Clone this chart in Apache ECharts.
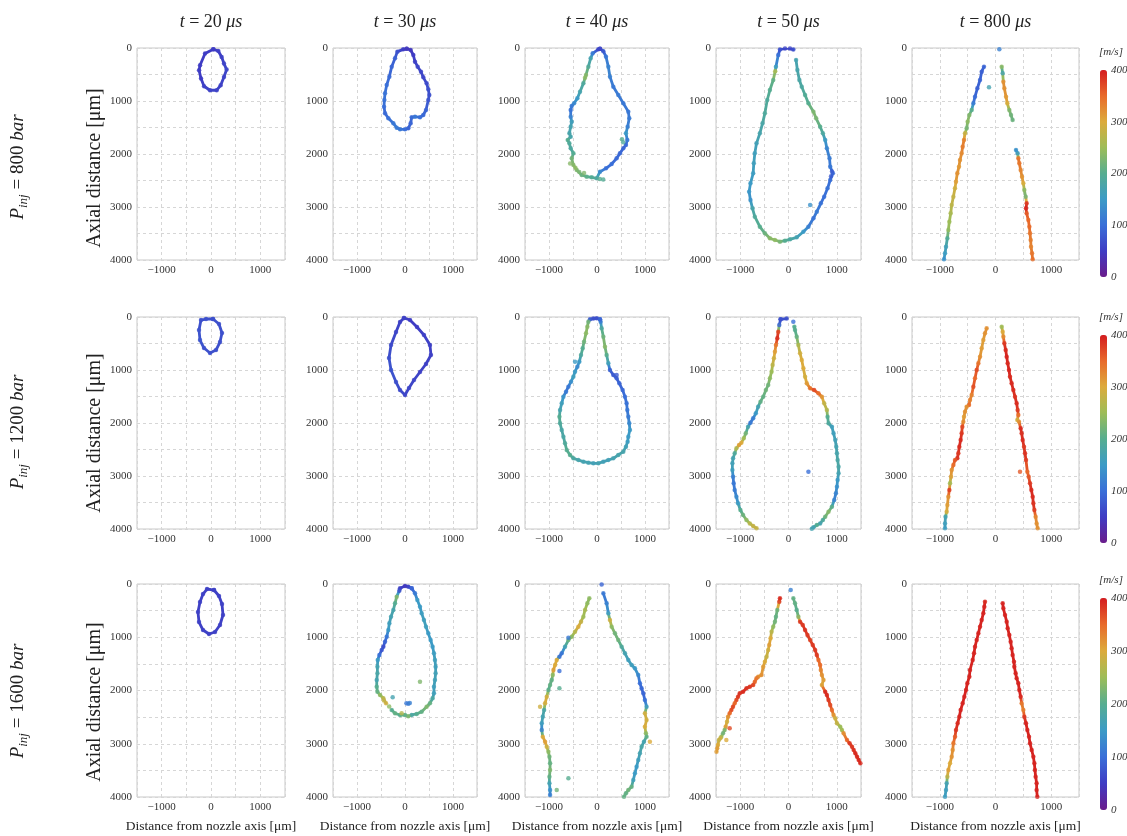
<!DOCTYPE html>
<html>
<head>
<meta charset="utf-8">
<script src="https://cdn.jsdelivr.net/npm/echarts@6/dist/echarts.min.js"></script>
<style>
html, body { margin: 0; padding: 0; background: #fff; }
#chart { width: 1127px; height: 836px; }
</style>
</head>
<body>
<div id="chart"></div>
<script>
// ---- labels and ticks ----
const TIMES = ['20', '30', '40', '50', '800'];          // t [μs], one per column
const PRESSURES = ['800', '1200', '1600'];            // P_inj [bar], one per row
const X_TICKS = [-1000, 0, 1000];
const Y_TICKS = [0, 1000, 2000, 3000, 4000];
const BAR_TICKS = [0, 100, 200, 300, 400];            // velocity scale [m/s]

// ---- spray edge traces: [radial µm, axial µm, velocity m/s]; one array per trace ----
const bar800_t20 = [
  [[47,25,50],[148,57,52],[216,170,55],[263,294,58],[317,407,62],[263,546,58],[196,703,55],[115,797,58],[-20,797,58],[-141,722,55],[-202,577,50],[-242,420,50],[-222,326,50],[-121,105,50],[47,25,50]]
];
const bar800_t30 = [
  [[35,13,45],[-35,25,50],[-159,69,70],[-208,195,85],[-277,352,90],[-326,541,95],[-381,698,100],[-416,855,105],[-430,981,105],[-437,1107,100],[-416,1233,95],[-347,1327,100],[-243,1421,110],[-173,1503,115],[-104,1535,110],[0,1535,100],[69,1516,90],[118,1421,90],[139,1308,95],[208,1296,110],[312,1308,100],[381,1264,95],[437,1170,90],[485,981,75],[506,887,70],[485,780,70],[451,667,65],[381,553,60],[333,447,60],[264,352,60],[208,258,55],[173,132,50],[118,38,45],[35,13,45]]
];
const bar800_t40 = [
  [[62,13,60],[28,25,60],[-90,101,110],[-132,195,170],[-180,352,190],[-229,509,235],[-284,667,190],[-354,824,175],[-409,950,150],[-478,1044,130],[-527,1094,115],[-548,1170,105],[-548,1296,120],[-527,1390,160],[-548,1484,170],[-576,1610,175],[-548,1673,175],[-610,1736,200],[-576,1799,190],[-548,1893,185],[-492,1988,195],[-527,2082,220],[-492,2208,235],[-423,2302,230],[-319,2397,215],[-215,2428,205],[-111,2440,195],[-7,2459,190],[62,2333,130],[187,2271,100],[305,2189,100],[409,2082,95],[478,1988,95],[548,1893,90],[603,1830,95],[631,1736,110],[603,1610,150],[638,1484,120],[672,1327,115],[652,1201,110],[548,1044,110],[444,887,115],[340,730,110],[270,541,120],[236,352,125],[187,164,110],[132,60,80],[62,13,60]],
  [[-560,2180,235]],[[-450,2260,240]],[[-370,2340,225]],[[-270,2360,230]],[[60,2470,200]],[[130,2480,195]],[[520,1720,200]],[[545,1780,190]],[[-250,560,240]]
];
const bar800_t50 = [
  [[100,30,70],[31,8,60],[-73,8,60],[-177,30,70],[-212,132,100],[-260,352,150],[-275,440,260],[-316,604,210],[-385,793,200],[-440,981,190],[-489,1233,190],[-537,1421,180],[-593,1610,175],[-662,1799,165],[-697,1988,160],[-718,2176,160],[-731,2365,155],[-787,2554,150],[-815,2711,145],[-787,2868,140],[-745,3025,175],[-697,3183,190],[-593,3371,200],[-489,3497,215],[-385,3591,235],[-281,3623,240],[-177,3654,225],[-73,3636,200],[31,3610,185],[170,3572,170],[308,3466,150],[412,3371,120],[516,3214,105],[586,3088,115],[669,2931,105],[738,2806,100],[808,2648,105],[863,2491,100],[918,2365,95],[863,2239,110],[849,2082,115],[794,1893,125],[759,1736,150],[711,1610,185],[655,1484,200],[572,1327,225],[516,1201,230],[412,1044,200],[343,887,195],[274,730,185],[225,604,180],[184,415,175],[156,226,170]],
  [[447,2962,140]],[[900,2330,80]],[[880,2420,80]]
];
const bar800_t800 = [
  [[-207,352,90],[-248,447,85],[-278,604,90],[-326,761,85],[-368,918,95],[-398,1044,110],[-428,1170,200],[-470,1264,230],[-500,1390,240],[-518,1516,220],[-548,1610,280],[-566,1736,330],[-590,1862,335],[-608,1988,325],[-638,2113,320],[-656,2239,315],[-686,2365,320],[-710,2522,310],[-728,2648,290],[-757,2806,280],[-787,2963,275],[-805,3120,260],[-829,3277,250],[-847,3434,245],[-865,3591,195],[-889,3749,165],[-907,3874,155],[-925,3988,140]],
  [[111,352,240],[129,478,170],[141,635,320],[159,761,320],[189,918,315],[212,1044,300],[248,1170,230],[278,1264,220],[308,1359,215]],
  [[368,1925,140],[398,1988,150],[410,2082,340],[428,2176,340],[452,2302,330],[476,2428,320],[500,2554,300],[518,2680,240],[542,2806,220],[560,2931,380],[548,3025,395],[560,3120,360],[590,3246,350],[608,3371,350],[620,3497,340],[632,3623,335],[638,3749,330],[656,3874,340],[668,3988,345]],
  [[69,25,120]],[[-117,742,170]]
];

const bar1200_t20 = [
  [[41,38,70],[-101,38,70],[-203,57,70],[-243,245,72],[-223,434,75],[-142,585,72],[-20,679,70],[101,623,70],[182,472,70],[223,302,70],[162,132,70],[41,38,70]]
];
const bar1200_t30 = [
  [[-21,19,55],[-104,94,55],[-187,283,60],[-291,528,65],[-333,774,70],[-291,1000,75],[-187,1227,70],[-104,1378,65],[0,1472,60],[83,1340,60],[187,1189,60],[312,1038,55],[437,887,55],[541,717,55],[520,528,55],[395,340,55],[250,189,50],[104,57,50],[-21,19,55]]
];
const bar1200_t40 = [
  [[62,44,90],[-7,25,70],[-76,30,70],[-146,44,75],[-180,88,220],[-201,182,235],[-229,308,240],[-270,465,220],[-298,591,200],[-333,717,190],[-368,843,150],[-409,937,130],[-458,1032,150],[-492,1126,160],[-541,1220,140],[-596,1315,110],[-645,1409,110],[-700,1503,140],[-735,1629,160],[-770,1755,170],[-783,1881,200],[-770,2007,190],[-735,2132,180],[-700,2258,180],[-666,2384,190],[-631,2510,200],[-562,2604,200],[-492,2667,185],[-388,2699,175],[-284,2730,170],[-180,2749,170],[-76,2761,165],[28,2761,170],[132,2730,165],[236,2699,165],[340,2667,170],[444,2604,175],[548,2541,175],[603,2447,165],[638,2352,155],[652,2258,150],[686,2132,150],[672,2007,130],[652,1881,115],[631,1755,110],[617,1629,105],[582,1503,100],[534,1378,95],[465,1252,90],[409,1157,85],[340,1094,80],[270,1000,85],[236,874,160],[201,717,200],[166,560,235],[132,371,220],[97,214,190],[76,88,120],[62,44,90]],
  [[-458,843,150]],[[409,1094,80]]
];
const bar1200_t50 = [
  [[-163,44,70],[-191,151,90],[-212,277,370],[-232,403,390],[-260,528,340],[-281,654,310],[-302,780,290],[-329,906,275],[-350,1032,250],[-385,1157,240],[-420,1283,220],[-468,1378,220],[-523,1503,210],[-579,1597,210],[-628,1692,170],[-676,1818,150],[-731,1912,120],[-787,1994,110],[-836,2069,170],[-884,2195,220],[-926,2290,250],[-974,2371,300],[-1023,2415,310],[-1078,2478,270],[-1113,2573,190],[-1147,2667,170],[-1161,2761,165],[-1161,2887,160],[-1147,3012,120],[-1134,3138,110],[-1113,3264,115],[-1078,3390,130],[-1044,3516,150],[-995,3642,200],[-940,3736,215],[-870,3831,240],[-801,3894,270],[-731,3944,280],[-662,3988,280]],
  [[-38,30,70],[-163,44,70]],
  [[121,182,200],[135,245,200],[170,371,210],[204,528,260],[239,686,290],[274,811,300],[308,969,300],[343,1126,290],[378,1252,310],[447,1346,340],[530,1378,370],[620,1441,350],[690,1503,320],[738,1629,280],[794,1755,270],[808,1881,200],[828,2007,190],[898,2069,160],[932,2195,160],[967,2321,165],[988,2447,170],[1002,2573,175],[1016,2699,180],[1036,2824,180],[1036,2950,170],[1016,3075,150],[1002,3201,140],[981,3327,125],[946,3453,120],[898,3579,200],[828,3673,235],[759,3768,220],[711,3831,190],[655,3894,170],[586,3925,200],[516,3969,170],[482,3995,170]],
  [[100,88,100]],[[412,2919,100]]
];
const bar1200_t800 = [
  [[-159,214,320],[-189,308,320],[-219,434,310],[-248,591,310],[-278,749,320],[-308,874,340],[-338,1000,370],[-368,1157,350],[-398,1315,370],[-428,1472,330],[-458,1566,330],[-476,1661,350],[-518,1692,320],[-548,1787,320],[-566,1881,310],[-578,1975,320],[-596,2069,370],[-608,2195,380],[-626,2321,390],[-650,2447,390],[-668,2573,380],[-686,2667,385],[-727,2699,360],[-757,2793,350],[-787,2887,320],[-799,3012,310],[-817,3138,250],[-829,3264,380],[-847,3390,320],[-865,3548,310],[-877,3673,300],[-898,3768,170],[-907,3894,160],[-907,3988,155]],
  [[111,182,250],[129,277,300],[141,371,320],[159,497,380],[183,623,390],[201,749,395],[219,874,390],[242,1000,395],[260,1126,390],[290,1252,390],[320,1378,390],[350,1503,385],[380,1629,390],[398,1755,380],[410,1849,350],[392,1944,290],[422,1975,320],[452,2101,390],[470,2195,385],[488,2321,390],[512,2447,380],[530,2573,385],[548,2699,380],[572,2919,350],[596,3012,360],[620,3138,380],[644,3264,390],[668,3390,390],[680,3516,385],[698,3642,380],[721,3768,330],[739,3894,320],[757,3988,320]],
  [[440,2919,360]]
];

const bar1600_t20 = [
  [[61,113,55],[-81,94,55],[-162,188,55],[-223,338,55],[-264,526,55],[-243,714,55],[-162,864,55],[-41,939,55],[81,901,55],[182,770,55],[243,582,55],[223,376,55],[162,225,55],[61,113,55]]
];
const bar1600_t30 = [
  [[139,81,90],[69,50,60],[0,38,45],[-104,81,55],[-118,125,70],[-173,238,230],[-208,363,200],[-243,488,175],[-291,613,170],[-326,739,160],[-347,864,150],[-381,989,110],[-416,1083,90],[-451,1177,70],[-485,1239,75],[-534,1333,100],[-568,1427,150],[-575,1552,170],[-575,1678,180],[-589,1803,170],[-589,1928,200],[-575,2022,210],[-520,2085,240],[-451,2147,270],[-395,2241,290]],
  [[139,81,90],[208,175,110],[257,300,150],[312,426,150],[347,551,155],[395,676,160],[437,801,160],[485,927,150],[534,1052,150],[575,1177,150],[603,1302,155],[624,1427,160],[638,1552,160],[638,1678,165],[624,1803,165],[603,1928,160],[603,2053,160],[575,2147,180],[520,2241,210],[451,2304,230],[347,2397,210],[243,2441,200],[139,2460,180],[69,2485,230],[0,2460,210],[-104,2460,200],[-208,2429,210],[-277,2366,200]],
  [[30,2241,110]],[[70,2250,110]],[[100,2235,120]],[[312,1834,230]],[[-257,2128,170]],[[-70,2428,270]],[[-440,2190,280]],[[-330,2300,240]]
];
const bar1600_t40 = [
  [[-160,269,240],[-201,363,240],[-250,488,260],[-284,613,250],[-333,707,280],[-388,801,300],[-458,895,270],[-527,989,240],[-596,1052,220],[-666,1177,170],[-735,1302,110],[-783,1365,100],[-839,1427,300],[-874,1521,300],[-908,1615,310],[-922,1709,240],[-943,1803,210],[-978,1897,210],[-1012,1991,200],[-1047,2116,290],[-1082,2241,300],[-1102,2366,180],[-1130,2491,170],[-1151,2617,160],[-1151,2742,120],[-1130,2867,300],[-1082,2961,310],[-1047,3055,290],[-1012,3149,240],[-991,3243,220],[-978,3368,210],[-978,3493,230],[-991,3618,210],[-991,3743,170],[-978,3869,140],[-978,3962,120]],
  [[132,175,110],[201,363,120],[236,551,150],[270,676,290],[305,801,240],[374,927,220],[444,1052,220],[513,1177,190],[582,1302,170],[652,1427,160],[721,1521,160],[790,1583,150],[860,1709,130],[894,1865,100],[929,1959,95],[964,2053,90],[998,2178,100],[1033,2304,150],[998,2429,290],[1033,2554,290],[998,2679,300],[1019,2805,240],[1033,2867,210],[978,2961,170],[929,3055,180],[894,3180,170],[860,3305,160],[825,3430,150],[790,3556,150],[756,3681,160],[721,3806,210],[652,3869,220],[603,3931,210],[562,3994,210]],
  [[97,10,90]],[[-596,1008,110]],[[-783,1634,100]],[[-783,1959,200]],[[-596,3649,200]],[[-839,3869,220]],[[-1186,2304,290]],[[1102,2961,300]]
];
const bar1600_t50 = [
  [[-177,269,390],[-191,332,380],[-232,488,220],[-260,613,210],[-281,707,220],[-316,801,240],[-350,895,270],[-371,1020,300],[-399,1146,310],[-420,1239,290],[-454,1365,280],[-489,1459,300],[-523,1552,310],[-558,1709,320],[-628,1740,320],[-662,1772,340],[-697,1834,350],[-731,1897,370],[-801,1928,380],[-870,1959,385],[-940,2022,390],[-1009,2053,385],[-1044,2116,380],[-1078,2178,370],[-1113,2241,350],[-1148,2304,370],[-1182,2366,370],[-1217,2429,350],[-1251,2491,320],[-1272,2585,290],[-1300,2679,310],[-1321,2742,230],[-1355,2805,220],[-1390,2867,250],[-1410,2898,290],[-1440,2930,280],[-1460,3024,300],[-1475,3086,310],[-1490,3149,310]],
  [[100,269,210],[135,363,210],[170,488,200],[204,613,230],[239,707,380],[295,770,380],[343,864,385],[392,958,380],[447,1052,375],[502,1146,380],[551,1239,380],[586,1333,380],[620,1427,350],[655,1521,350],[669,1615,330],[690,1709,320],[724,1803,310],[690,1897,300],[759,2022,390],[794,2085,390],[828,2178,380],[863,2272,370],[898,2366,350],[932,2460,320],[967,2522,290],[1002,2617,280],[1071,2679,250],[1106,2742,250],[1140,2805,320],[1210,2930,350],[1265,2992,380],[1314,3055,380],[1349,3118,385],[1383,3180,390],[1418,3243,390],[1452,3305,390],[1487,3368,390]],
  [[45,113,120]],[[-1217,2711,370]],[[-1286,2930,300]]
];
const bar1600_t800 = [
  [[-189,332,390],[-201,426,395],[-219,551,395],[-248,676,395],[-278,801,395],[-308,927,395],[-338,1052,395],[-368,1177,395],[-386,1302,395],[-410,1427,395],[-458,1615,395],[-470,1740,395],[-506,1865,395],[-530,1991,395],[-560,2116,395],[-590,2241,395],[-626,2366,395],[-650,2491,395],[-680,2617,390],[-710,2742,385],[-727,2867,360],[-757,2992,340],[-769,3118,320],[-787,3243,320],[-817,3368,300],[-847,3493,310],[-865,3618,280],[-877,3743,170],[-889,3869,160],[-907,3995,155]],
  [[129,363,395],[141,457,395],[171,582,395],[201,707,395],[219,833,395],[248,958,395],[272,1083,395],[290,1208,395],[308,1333,395],[332,1459,395],[338,1552,395],[362,1678,395],[380,1772,395],[410,1865,395],[428,1991,395],[452,2116,395],[470,2241,340],[500,2366,330],[518,2491,380],[548,2617,395],[572,2742,395],[602,2867,395],[620,2992,395],[650,3118,395],[680,3243,395],[698,3368,395],[709,3493,395],[721,3618,395],[739,3743,395],[739,3869,395],[751,3995,395]]
];

// ---- colour scale (purple -> blue -> green -> orange -> red) ----
const RAINBOW = ['#6b1c8c', '#3f3cc4', '#3a6fd8', '#3c9bc6', '#56ad90', '#9dbd58', '#dcab3c', '#e86a2b', '#d41c1f'];

// ---- page layout (pixels) ----
const COL_LEFT = [137, 333, 525, 716, 912];
const COL_RIGHT = [285, 477, 669, 861, 1079];
const ROW_TOP = [48, 317, 584];
const ROW_BOTTOM = [260, 529, 797];
const BAR_TOP = [70, 335, 598];
const BAR_BOTTOM = [277, 543, 810];
const BAR_LEFT = 1100, BAR_WIDTH = 7;
const ROW_LABEL_Y = [167, 432, 701];
const SERIF = "'Liberation Serif', 'Times New Roman', serif";
const INK = '#222';

const PANELS = [
  [bar800_t20, bar800_t30, bar800_t40, bar800_t50, bar800_t800],
  [bar1200_t20, bar1200_t30, bar1200_t40, bar1200_t50, bar1200_t800],
  [bar1600_t20, bar1600_t30, bar1600_t40, bar1600_t50, bar1600_t800]
];

function fmtNum(v) { return v < 0 ? '\u2212' + (-v) : String(v); }

// one coloured stroke between two consecutive edge samples
function renderSegment(params, api) {
  const a = api.coord([api.value(0), api.value(1)]);
  const b = api.coord([api.value(3), api.value(4)]);
  return {
    type: 'line',
    shape: { x1: a[0], y1: a[1], x2: b[0], y2: b[1] },
    style: { stroke: api.visual('color'), lineWidth: 2.8, lineCap: 'round' }
  };
}

const grid = [], xAxis = [], yAxis = [], series = [];
const rowSeries = [[], [], []];

PANELS.forEach((row, r) => {
  row.forEach((traces, c) => {
    const g = grid.length;
    grid.push({
      left: COL_LEFT[c], top: ROW_TOP[r],
      width: COL_RIGHT[c] - COL_LEFT[c], height: ROW_BOTTOM[r] - ROW_TOP[r],
      show: true, borderColor: '#c9c9c9', borderWidth: 1, backgroundColor: '#fff',
      containLabel: false, outerBoundsMode: 'none'
    });
    xAxis.push({
      type: 'value', gridIndex: g, min: -1500, max: 1500, interval: 500,
      axisLine: { show: false }, axisTick: { show: false },
      splitLine: { show: true, lineStyle: { color: '#d6d6d6', type: [3, 3], width: 1 } },
      axisLabel: {
        margin: 5, fontFamily: SERIF, fontSize: 11, color: '#333',
        formatter: v => (X_TICKS.includes(v) ? fmtNum(v) : '')
      },
      name: r === 2 ? 'Distance from nozzle axis [\u03bcm]' : '',
      nameLocation: 'middle', nameGap: 22,
      nameTextStyle: { fontFamily: SERIF, fontSize: 13.5, color: INK }
    });
    yAxis.push({
      type: 'value', gridIndex: g, min: 0, max: 4000, interval: 500, inverse: true,
      axisLine: { show: false }, axisTick: { show: false },
      splitLine: { show: true, lineStyle: { color: '#d6d6d6', type: [3, 3], width: 1 } },
      axisLabel: {
        margin: 5, fontFamily: SERIF, fontSize: 11, color: '#333',
        formatter: v => (Y_TICKS.includes(v) ? String(v) : '')
      }
    });

    const segs = [], pts = [];
    traces.forEach(tr => {
      tr.forEach((p, i) => {
        pts.push(p);
        if (i > 0) {
          const q = tr[i - 1];
          segs.push([q[0], q[1], (q[2] + p[2]) / 2, p[0], p[1]]);
        }
      });
    });
    rowSeries[r].push(series.length);
    series.push({
      type: 'custom', xAxisIndex: g, yAxisIndex: g, data: segs,
      encode: { x: [0, 3], y: [1, 4] }, renderItem: renderSegment,
      clip: true, silent: true, z: 2
    });
    rowSeries[r].push(series.length);
    series.push({
      type: 'scatter', xAxisIndex: g, yAxisIndex: g, data: pts,
      symbol: 'circle', symbolSize: 4.5, clip: true, silent: true, z: 3
    });
  });
});

// tick labels beside each colour bar
PRESSURES.forEach((p, r) => {
  const g = grid.length;
  grid.push({
    left: BAR_LEFT, top: BAR_TOP[r], width: BAR_WIDTH, height: BAR_BOTTOM[r] - BAR_TOP[r],
    show: false, containLabel: false, outerBoundsMode: 'none'
  });
  xAxis.push({ type: 'value', gridIndex: g, show: false, min: 0, max: 1 });
  yAxis.push({
    type: 'value', gridIndex: g, min: BAR_TICKS[0], max: BAR_TICKS[BAR_TICKS.length - 1],
    interval: BAR_TICKS[1] - BAR_TICKS[0], position: 'right',
    axisLine: { show: false }, axisTick: { show: false }, splitLine: { show: false },
    axisLabel: { margin: 4, fontFamily: SERIF, fontSize: 11, fontStyle: 'italic', color: '#333' }
  });
});

const visualMap = PRESSURES.map((p, r) => ({
  type: 'continuous', min: 0, max: 400, dimension: 2,
  seriesIndex: rowSeries[r],
  inRange: { color: RAINBOW },
  orient: 'vertical', left: BAR_LEFT, top: BAR_TOP[r],
  itemWidth: BAR_WIDTH, itemHeight: BAR_BOTTOM[r] - BAR_TOP[r],
  calculable: false, hoverLink: false, padding: 0
}));

const graphic = [];
TIMES.forEach((t, c) => {
  graphic.push({
    type: 'text', x: (COL_LEFT[c] + COL_RIGHT[c]) / 2, y: 22, silent: true,
    style: {
      text: '{i|t}{n| = ' + t + ' }{i|\u03bcs}',
      align: 'center', verticalAlign: 'middle',
      rich: {
        i: { fontFamily: SERIF, fontSize: 18, fontStyle: 'italic', fill: INK },
        n: { fontFamily: SERIF, fontSize: 18, fill: INK }
      }
    }
  });
});
PRESSURES.forEach((p, r) => {
  graphic.push({
    type: 'text', x: 18, y: ROW_LABEL_Y[r], rotation: Math.PI / 2, silent: true,
    style: {
      text: '{i|P}{s|inj}{n| = ' + p + ' }{i|bar}',
      align: 'center', verticalAlign: 'middle',
      rich: {
        i: { fontFamily: SERIF, fontSize: 19, fontStyle: 'italic', fill: INK, lineHeight: 24 },
        s: { fontFamily: SERIF, fontSize: 13, fontStyle: 'italic', fill: INK, lineHeight: 13, verticalAlign: 'bottom' },
        n: { fontFamily: SERIF, fontSize: 19, fill: INK, lineHeight: 24 }
      }
    }
  });
  graphic.push({
    type: 'text', x: 95, y: ROW_LABEL_Y[r] + 1, rotation: Math.PI / 2, silent: true,
    style: {
      text: 'Axial distance [\u03bcm]', fontFamily: SERIF, fontSize: 20, fill: INK,
      align: 'center', verticalAlign: 'middle'
    }
  });
  graphic.push({
    type: 'text', x: BAR_LEFT + 11, y: BAR_TOP[r] - 18, silent: true,
    style: {
      text: '[m/s]', fontFamily: SERIF, fontSize: 11, fontStyle: 'italic', fill: '#333',
      align: 'center', verticalAlign: 'middle'
    }
  });
});

const chart = echarts.init(document.getElementById('chart'), null, { renderer: 'canvas' });
chart.setOption({
  animation: false,
  backgroundColor: '#fff',
  grid, xAxis, yAxis, series, visualMap, graphic
});
</script>
</body>
</html>
